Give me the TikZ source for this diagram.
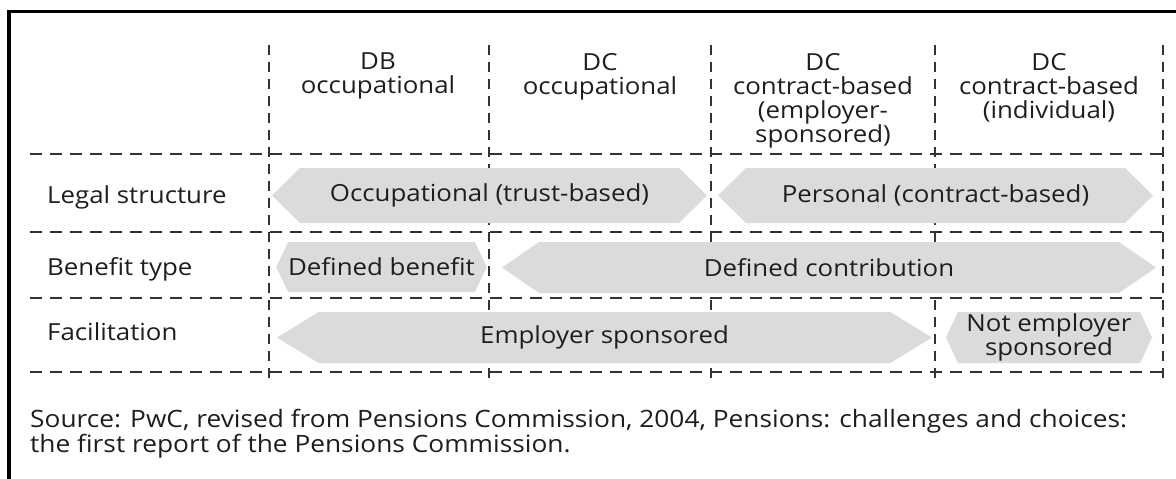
\documentclass[tikz,border=0pt]{standalone}
\usepackage{fontspec}
\setmainfont{Open Sans}[FakeStretch=1.1]
\usetikzlibrary{shapes.symbols}
\usetikzlibrary{positioning}
\definecolor{bandgray}{HTML}{DADBDB}
\definecolor{inkgray}{HTML}{1E1E1E}
\tikzset{
    gridline/.style = {draw=black!80, line width=1.3pt, dash pattern=on 12pt off 8pt},
    gridlinev/.style = {draw=black!80, line width=1.3pt, dash pattern=on 10pt off 7pt},
    band/.style = {signal, signal to=west and east, fill=bandgray, draw=none, inner sep=0pt,
        align=center, text=inkgray, font=\fontsize{23.5}{24}\selectfont},
    head/.style = {anchor=north, align=center, inner sep=0pt, text=inkgray, font=\fontsize{23.5}{24}\selectfont},
    rowlabel/.style = {anchor=base west, inner sep=0pt, text=inkgray, font=\fontsize{23.5}{24}\selectfont},
    note/.style = {anchor=base west, align=left, inner sep=0pt, text=inkgray, font=\fontsize{23.9}{25}\selectfont}
}
\begin{document}
\begin{tikzpicture}[x=1pt, y=-1pt]
  \useasboundingbox (0,0) rectangle (1176,479);
  % frame
  \draw[line width=3.5pt] (9,479) -- (9,11.5) -- (1176,11.5);

  % grid
  \foreach \y in {154,232,298,372}
    \draw[gridline] (30,\y) -- (1163,\y);
  \foreach \x in {269,489,711,935,1163}
    \draw[gridlinev] (\x,45) -- (\x,378);

  % column heads
  \node[head] (dbocc) at (378,53) {DB\\occupational};
  \node[head] (dcocc) at (600,53) {DC\\occupational};
  \node[head] (dcemp) at (823,53) {DC\\contract-based\\(employer-\\sponsored)};
  \node[head] (dcind) at (1049,53) {DC\\contract-based\\(individual)};

  % row labels
  \node[rowlabel] (legal) at (47,203) {Legal structure};
  \node[rowlabel] (benefit) at (47,275) {Benefit type};
  \node[rowlabel] (facil) at (47,340) {Facilitation};

  % bands
  \node[band, minimum width=435pt, minimum height=55pt, signal pointer angle=89] (trust) at (489.5,195.5) {Occupational (trust-based)};
  \node[band, minimum width=435pt, minimum height=55pt, signal pointer angle=89] (contract) at (935.5,195.5) {Personal (contract-based)};
  \node[band, minimum width=207pt, minimum height=50pt, signal pointer angle=129] (dben) at (381.5,267) {Defined benefit};
  \node[band, minimum width=654pt, minimum height=51pt, signal pointer angle=69] (dcon) at (829,267.5) {Defined contribution};
  \node[band, minimum width=655pt, minimum height=51pt, signal pointer angle=63] (empsp) at (604.5,337.5) {Employer sponsored};
  \node[band, minimum width=206pt, minimum height=51pt, signal pointer angle=130] (notemp) at (1049,337.5) {Not employer\\sponsored};

  % source
  \node[note] (source) at (30,452) {Source: PwC, revised from Pensions Commission, 2004, Pensions: challenges and choices:\\the first report of the Pensions Commission.};
\end{tikzpicture}
\end{document}
